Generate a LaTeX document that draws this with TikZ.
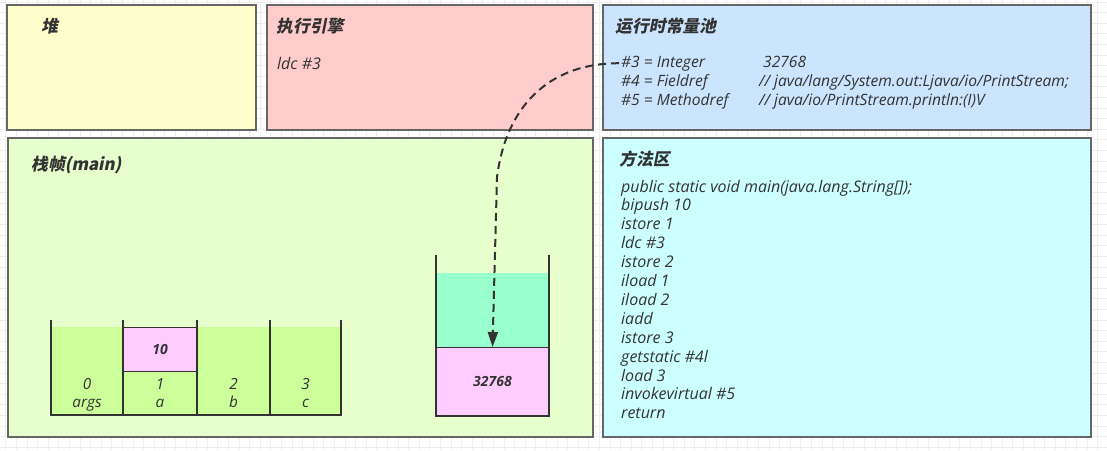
\documentclass[tikz,border=0pt]{standalone}
\usepackage{fontspec}
\setmainfont{Open Sans}
\newfontfamily\cjk{Noto Sans CJK SC}[FakeSlant=0.2]
\usetikzlibrary{arrows.meta}
\definecolor{txtc}{HTML}{333333}
\definecolor{bordc}{HTML}{666666}
\definecolor{gridc}{HTML}{EEEEEE}
\definecolor{heapc}{HTML}{FFFFCC}
\definecolor{enginec}{HTML}{FFCCCC}
\definecolor{poolc}{HTML}{CCE5FF}
\definecolor{framec}{HTML}{E6FFCC}
\definecolor{methodc}{HTML}{CCFFFF}
\definecolor{greenc}{HTML}{CCFF99}
\definecolor{pinkc}{HTML}{FFCCFF}
\definecolor{tealc}{HTML}{99FFCC}
\tikzset{
  region/.style={draw=bordc, line width=1.2pt, anchor=north west, inner sep=0pt, outer sep=0pt},
  title/.style={anchor=base west, inner sep=0pt, text=txtc, font=\cjk\bfseries\fontsize{16.8}{17}\selectfont},
  code/.style={anchor=base west, inner sep=0pt, text=txtc, font=\itshape\fontsize{16}{18}\selectfont},
  pcode/.style={anchor=base west, inner sep=0pt, text=txtc, font=\itshape\fontsize{15.6}{17}\selectfont},
  lbl/.style={anchor=base, inner sep=0pt, text=txtc, font=\itshape\fontsize{15.3}{17}\selectfont},
  cell/.style={draw=txtc, line width=0.9pt, anchor=north west, inner sep=0pt, outer sep=0pt, text=txtc, font=\bfseries\itshape\fontsize{14}{16}\selectfont},
  wall/.style={draw=txtc, line width=2pt},
  flow/.style={draw=txtc, line width=2pt, dash pattern=on 8pt off 5pt, -{Triangle[length=15pt,width=10pt]}}
}
\begin{document}
\begin{tikzpicture}[x=1pt,y=-1pt]
\useasboundingbox (0,0) rectangle (1107,450);
\fill[white] (0,0) rectangle (1107,450);
% background grid
\foreach \i in {0,...,104} \draw[gridc, line width=0.8pt] ({5.8+\i*10.6},0) -- ({5.8+\i*10.6},450);
\foreach \j in {0,...,42} \draw[gridc, line width=0.8pt] (0,{2+\j*10.6}) -- (1107,{2+\j*10.6});
% regions
\node[region, fill=heapc, minimum width=249, minimum height=125] (heap) at (7,5) {};
\node[region, fill=enginec, minimum width=326, minimum height=125] (engine) at (267,5) {};
\node[region, fill=poolc, minimum width=488, minimum height=125] (pool) at (603,5) {};
\node[region, fill=framec, minimum width=585, minimum height=299] (frame) at (8,138) {};
\node[region, fill=methodc, minimum width=488, minimum height=299] (method) at (603,138) {};
% titles
\node[title] (theap) at (41,32) {堆};
\node[title] (tengine) at (276,32) {执行引擎};
\node[title] (tpool) at (615,32) {运行时常量池};
\node[title] (tframe) at (31,170) {栈帧(main)};
\node[title] (tmethod) at (619,165) {方法区};
% engine
\node[code] (eldc) at (277,69) {ldc \#3};
% constant pool
\node[pcode] (c3a) at (621,67) {\#3 = Integer};
\node[pcode] (c3b) at (763,67) {32768};
\node[pcode] (c4a) at (621,86) {\#4 = Fieldref};
\node[pcode] (c4b) at (759,86) {// java/lang/System.out:Ljava/io/PrintStream;};
\node[pcode] (c5a) at (621,105) {\#5 = Methodref};
\node[pcode] (c5b) at (759,105) {// java/io/PrintStream.println:(I)V};
% method area
\foreach \t [count=\i from 0] in {{public static void main(java.lang.String[]);},{bipush 10},{istore 1},{ldc \#3},{istore 2},{iload 1},{iload 2},{iadd},{istore 3},{getstatic \#4l},{load 3},{invokevirtual \#5},{return}}
  \node[code] (m\i) at (621,{192+\i*18.9}) {\t};
% local variable table
\fill[greenc] (51,327) rectangle (341,415);
\node[cell, fill=pinkc, minimum width=74, minimum height=44] (v10) at (123,327) {10};
\draw[wall] (51,320) -- (51,415) -- (341,415) -- (341,320);
\draw[wall] (123,320) -- (123,415);
\draw[wall] (197,320) -- (197,415);
\draw[wall] (270,320) -- (270,415);
\node[lbl] (i0) at (87,389) {0};
\node[lbl] (n0) at (87,407) {args};
\node[lbl] (i1) at (160,389) {1};
\node[lbl] (n1) at (160,407) {a};
\node[lbl] (i2) at (233.5,389) {2};
\node[lbl] (n2) at (233.5,407) {b};
\node[lbl] (i3) at (305.5,389) {3};
\node[lbl] (n3) at (305.5,407) {c};
% operand stack
\fill[tealc] (436,273) rectangle (549,347);
\node[cell, fill=pinkc, minimum width=113, minimum height=69] (v32768) at (436,347) {32768};
\draw[wall] (436,255) -- (436,416) -- (549,416) -- (549,255);
\coordinate (sttop) at (492.5,347);
\coordinate (bend) at (497,177);
% arrow
\draw[flow] ([xshift=-2pt]c3a.west) .. controls (555,63) and (507,100) .. (bend) -- (sttop);
\end{tikzpicture}
\end{document}
